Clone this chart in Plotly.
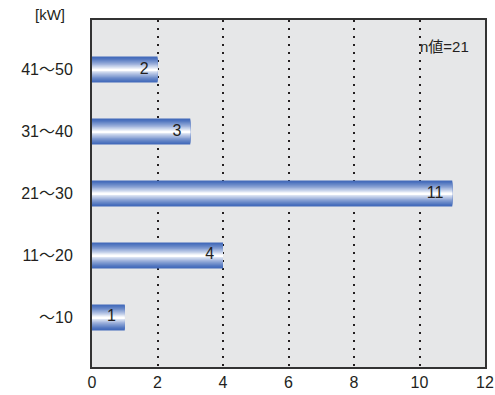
import plotly.graph_objects as go

# Capacity classes and number of sites in each
categories = ["～10", "11～20", "21～30", "31～40", "41～50"]
counts = [1, 4, 11, 3, 2]
x_ticks = [0, 2, 4, 6, 8, 10, 12]
unit_label = "[kW]"
n_label = "n値=21"

EDGE = (66, 106, 186)
CENTER = (255, 255, 255)
BAR_WIDTH = 0.42
LAYERS = 14
FONT = "Liberation Sans, Arial, 'Noto Sans CJK JP', sans-serif"


def mix(a, b, t):
    return "rgb({},{},{})".format(*[round(a[i] + (b[i] - a[i]) * t) for i in range(3)])


fig = go.Figure()

# Cylinder-like shading: stacked bars get narrower and lighter toward the centre
for k in range(LAYERS):
    t = k / (LAYERS - 1)
    fig.add_trace(go.Bar(
        x=counts, y=categories, orientation="h",
        width=BAR_WIDTH * (1 - t * 0.95),
        marker=dict(color=mix(EDGE, CENTER, t ** 1.3), line=dict(width=0)),
        hoverinfo="skip", showlegend=False,
    ))

# Count labels at the end of each bar
fig.add_trace(go.Scatter(
    x=counts, y=categories, mode="text",
    text=[f"{v}&nbsp;&nbsp;" for v in counts], textposition="middle left",
    textfont=dict(size=16, color="#231f20", family=FONT),
    hoverinfo="skip", showlegend=False,
))

fig.update_layout(
    width=495, height=395,
    margin=dict(l=92, r=10, t=20, b=28, autoexpand=False),
    paper_bgcolor="white", plot_bgcolor="#e6e7e8",
    barmode="overlay",
    font=dict(family=FONT, size=15, color="#231f20"),
    xaxis=dict(
        range=[0, 12], tickvals=x_ticks, ticks="", showgrid=True,
        gridcolor="#231f20", gridwidth=2, griddash="2px,6px",
        showline=True, linecolor="#333333", linewidth=2, mirror=True,
        zeroline=False, tickfont=dict(size=16), automargin=False,
    ),
    yaxis=dict(
        categoryorder="array", categoryarray=categories, range=[-0.8, 4.8],
        showgrid=False, ticks="outside", ticklen=14, tickcolor="rgba(0,0,0,0)",
        showline=True, linecolor="#333333", linewidth=2, mirror=True,
        zeroline=False, tickfont=dict(size=16), automargin=False,
    ),
    annotations=[
        dict(text=unit_label, xref="paper", yref="paper", x=-0.107, y=1.015,
             xanchor="center", yanchor="middle", showarrow=False, font=dict(size=15)),
        dict(text=n_label, xref="paper", yref="paper", x=0.965, y=0.925,
             xanchor="right", yanchor="middle", showarrow=False, font=dict(size=15)),
    ],
)

fig.write_html("out.html")
